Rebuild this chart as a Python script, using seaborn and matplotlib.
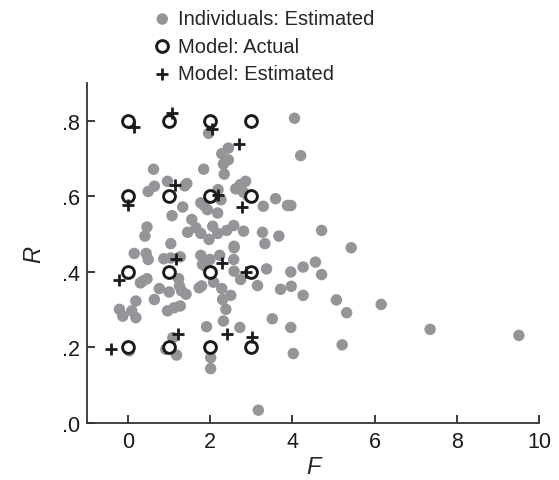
import matplotlib
matplotlib.use("Agg")
import matplotlib.pyplot as plt
import seaborn as sns
import pandas as pd

# individuals: estimated (F, R)
ind_f = [4.05, 4.20, 3.96, 4.71, 5.43, 4.56, 4.26, 4.71, 3.96, 3.97, 4.26, 5.07, 5.32, 6.16,
         7.35, 9.51, 5.21, 3.96, 4.02,
         1.96, 0.62, 1.84, 2.28, 2.44, 2.44, 2.32, 2.34, 0.96, 1.43, 1.38, 0.64, 0.49, 2.86,
         2.73, 2.62, 2.81, 2.91, 3.59, 3.88, 3.29, 2.19, 1.77, 1.85, 1.93, 2.18, 2.26, 1.33,
         1.07, 1.55, 0.46, 0.41, 1.04, 1.45, 1.65, 2.06, 1.77, 1.97, 2.18, 2.40, 2.57, 2.81,
         3.27, 3.67, 3.33, 2.58,
         0.15, 0.44, 0.49, 0.87, 1.04, 1.27, 1.77, 1.99, 2.23, 2.58, 2.57, 1.81, 1.89, 2.03,
         2.58, 3.37, 2.74, 2.08, 3.15, 3.71, 0.36, 0.46, 0.30, 0.76, 1.00, 1.25, 1.30, 1.41,
         1.23, 1.73, 1.79, 2.28, 2.50, 2.30, 0.64, 0.19, -0.21, -0.13, 0.09, 0.19, 0.96, 1.12,
         1.27, 2.38, 2.32, 2.72, 1.91, 3.51, 1.09, 0.92, 1.18, 0.03, 2.01, 2.01, 3.17]
ind_r = [0.807, 0.708, 0.576, 0.510, 0.464, 0.426, 0.413, 0.393, 0.400, 0.362, 0.338, 0.326,
         0.292, 0.314, 0.248, 0.232, 0.207, 0.253, 0.184,
         0.767, 0.672, 0.672, 0.713, 0.728, 0.697, 0.686, 0.659, 0.640, 0.634, 0.628, 0.627,
         0.613, 0.640, 0.631, 0.620, 0.611, 0.602, 0.594, 0.576, 0.574, 0.618, 0.583, 0.576,
         0.565, 0.556, 0.591, 0.572, 0.549, 0.539, 0.519, 0.495, 0.475, 0.505, 0.517, 0.521,
         0.502, 0.486, 0.502, 0.510, 0.523, 0.508, 0.505, 0.495, 0.475, 0.468,
         0.449, 0.449, 0.433, 0.435, 0.437, 0.440, 0.444, 0.433, 0.444, 0.464, 0.433, 0.420,
         0.414, 0.402, 0.402, 0.408, 0.380, 0.373, 0.364, 0.354, 0.376, 0.382, 0.371, 0.356,
         0.347, 0.363, 0.350, 0.341, 0.382, 0.358, 0.363, 0.356, 0.338, 0.327, 0.327, 0.323,
         0.301, 0.283, 0.297, 0.279, 0.297, 0.305, 0.310, 0.301, 0.270, 0.253, 0.255, 0.276,
         0.226, 0.195, 0.180, 0.191, 0.173, 0.144, 0.034]

# model: actual (grid)
act_f = [0, 1, 2, 3, 0, 1, 2, 3, 0, 1, 2, 3, 0, 1, 2, 3]
act_r = [0.8, 0.8, 0.8, 0.8, 0.6, 0.6, 0.6, 0.6, 0.4, 0.4, 0.4, 0.4, 0.2, 0.2, 0.2, 0.2]

# model: estimated
est_f = [0.15, 1.07, 2.05, 2.69, -0.01, 1.15, 2.18, 2.78,
         -0.23, 1.17, 2.28, 2.86, -0.41, 1.21, 2.40, 3.01]
est_r = [0.785, 0.820, 0.778, 0.739, 0.576, 0.630, 0.604, 0.572,
         0.378, 0.435, 0.424, 0.400, 0.195, 0.235, 0.235, 0.228]

x_ticks = [0, 2, 4, 6, 8, 10]
y_ticks = [0.0, 0.2, 0.4, 0.6, 0.8]
y_ticklabels = [".0", ".2", ".4", ".6", ".8"]

ind = pd.DataFrame({"F": ind_f, "R": ind_r})
act = pd.DataFrame({"F": act_f, "R": act_r})
est = pd.DataFrame({"F": est_f, "R": est_r})

sns.set_style("ticks")
plt.rcParams["font.family"] = ["Liberation Sans", "DejaVu Sans"]

fig = plt.figure(figsize=(5.59, 4.81), dpi=100)
ax = fig.add_axes([0.1556, 0.1185, 0.8086, 0.7066])

sns.scatterplot(data=ind, x="F", y="R", ax=ax, color="#939598", s=68,
                edgecolor="none", label="Individuals: Estimated", zorder=2)
sns.scatterplot(data=act, x="F", y="R", ax=ax, marker="o", s=72, facecolor="white",
                edgecolor="#1a1a1a", linewidth=2.1, label="Model: Actual", zorder=3)
sns.scatterplot(data=est, x="F", y="R", ax=ax, marker="+", s=80, color="#1a1a1a",
                linewidth=2.0, label="Model: Estimated", zorder=4)

ax.set_xlim(-1, 10)
ax.set_ylim(0, 0.9)
ax.set_xticks(x_ticks)
ax.set_xticklabels([str(t) for t in x_ticks])
ax.set_yticks(y_ticks)
ax.set_yticklabels(y_ticklabels)
ax.tick_params(direction="in", length=6, width=1.2, labelsize=15.5, colors="#1a1a1a")
ax.tick_params(axis="x", pad=6)
ax.tick_params(axis="y", pad=5)
for side in ["left", "bottom"]:
    ax.spines[side].set_linewidth(1.3)
    ax.spines[side].set_color("#333333")
sns.despine(ax=ax)

ax.set_xlabel("F", fontsize=17, style="italic", labelpad=2)
ax.set_ylabel("R", fontsize=17, style="italic", labelpad=12)

ax.legend(loc="lower left", bbox_to_anchor=(0.122, 0.976), frameon=False, fontsize=14.5,
          handletextpad=0.2, labelspacing=0.42, borderaxespad=0, handlelength=1.2)

fig.savefig("out.png", dpi=100)
